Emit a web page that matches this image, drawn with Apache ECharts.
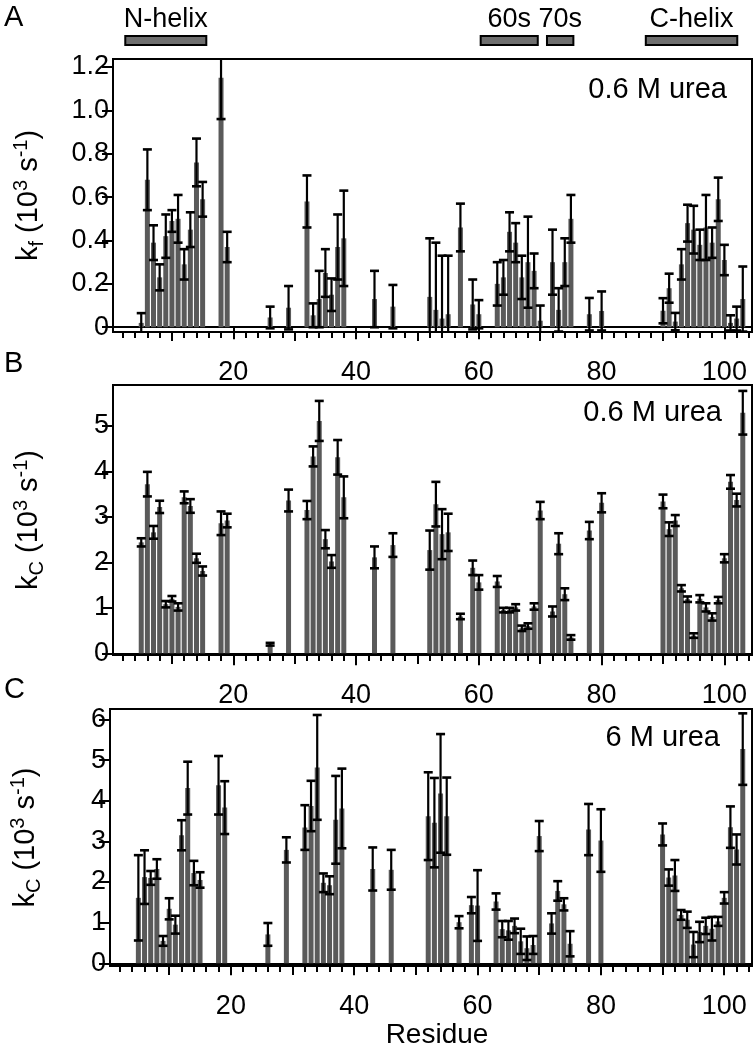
<!DOCTYPE html>
<html><head><meta charset="utf-8">
<script src="https://cdn.jsdelivr.net/npm/echarts@6/dist/echarts.min.js"></script>
<style>html,body{margin:0;padding:0;background:#fff}#c{width:755px;height:1050px}</style>
</head><body><div id="c"></div>
<script>
// ---------------- data ----------------
const residues = [5,6,7,8,9,10,11,12,13,14,15,18,19,26,29,32,33,34,35,36,37,38,43,46,52,53,54,55,57,59,60,63,64,65,66,67,68,69,70,72,73,74,75,78,80,90,91,92,93,94,95,96,97,98,99,100,101,102,103];

// Panel A: kf, 0.6 M urea
const kfValues = [0.02,0.68,0.39,0.23,0.42,0.49,0.50,0.29,0.45,0.76,0.59,1.15,0.37,0.045,0.09,0.58,0.055,0.13,0.25,0.15,0.37,0.41,0.13,0.095,0.14,0.08,0.04,0.06,0.46,0.105,0.06,0.20,0.23,0.44,0.39,0.23,0.30,0.26,0.03,0.30,0.08,0.30,0.50,0.06,0.075,0.076,0.18,0.026,0.29,0.48,0.45,0.38,0.46,0.39,0.59,0.31,0.02,0.04,0.13];
const kfErrors = [0.045,0.14,0.08,0.06,0.10,0.05,0.11,0.07,0.08,0.11,0.08,0.19,0.07,0.05,0.10,0.12,0.055,0.13,0.11,0.075,0.15,0.22,0.13,0.10,0.27,0.31,0.29,0.27,0.11,0.115,0.065,0.10,0.08,0.09,0.09,0.10,0.21,0.08,0.07,0.15,0.10,0.11,0.11,0.075,0.09,0.058,0.067,0.04,0.07,0.085,0.11,0.07,0.15,0.07,0.10,0.07,0.035,0.055,0.15];

// Panel B: kC, 0.6 M urea
const kc06Values = [2.44,3.72,2.66,3.22,1.08,1.20,1.02,3.43,3.24,2.09,1.81,2.86,2.92,0.20,3.36,3.15,4.33,5.11,2.51,2.02,4.31,3.43,2.11,2.38,2.27,3.28,2.62,2.66,0.81,1.88,1.56,1.58,0.95,0.95,1.01,0.55,0.60,1.03,3.14,0.92,2.41,1.30,0.35,2.70,3.31,3.34,2.73,2.92,1.43,1.19,0.39,1.20,1.01,0.80,1.17,2.09,3.77,3.37,5.29];
const kc06Errors = [0.09,0.27,0.14,0.135,0.07,0.06,0.08,0.13,0.15,0.10,0.10,0.26,0.15,0.03,0.24,0.20,0.22,0.44,0.20,0.14,0.38,0.46,0.24,0.26,0.43,0.49,0.55,0.41,0.06,0.16,0.16,0.12,0.05,0.05,0.07,0.06,0.06,0.07,0.19,0.11,0.23,0.13,0.05,0.19,0.21,0.15,0.15,0.12,0.07,0.06,0.05,0.08,0.09,0.08,0.07,0.09,0.15,0.14,0.48];

// Panel C: kC, 6 M urea
const kc6Values = [1.61,2.12,2.10,2.32,0.55,1.34,0.95,3.15,4.31,2.22,2.05,4.38,3.83,0.71,2.79,3.34,3.87,4.82,1.98,1.92,3.53,3.81,2.32,2.30,3.62,3.46,4.18,3.62,1.01,1.43,1.42,1.52,0.84,0.81,0.92,0.54,0.37,0.45,3.13,0.98,1.78,1.45,0.48,3.29,3.02,3.17,2.11,2.16,1.19,1.07,0.46,0.77,0.92,0.85,1.03,1.61,3.35,2.80,5.27];
const kc6Errors = [1.05,0.66,0.17,0.24,0.12,0.26,0.22,0.37,0.65,0.30,0.19,0.72,0.65,0.28,0.31,0.55,0.62,1.29,0.23,0.22,1.08,0.98,0.53,0.49,1.08,1.10,1.46,0.95,0.15,0.20,0.87,0.20,0.20,0.23,0.18,0.31,0.29,0.22,0.37,0.25,0.24,0.15,0.31,0.63,0.77,0.27,0.20,0.38,0.12,0.20,0.31,0.25,0.20,0.29,0.11,0.14,0.51,0.37,0.88];

// Axis ticks
const xMajorTicks = [20,40,60,80,100];
const xMediumTicks = [10,30,50,70,90];
const xMinorTicks = [2,4,6,8,10,12,14,16,18,20,22,24,26,28,30,32,34,36,38,40,42,44,46,48,50,52,54,56,58,60,62,64,66,68,70,72,74,76,78,80,82,84,86,88,90,92,94,96,98,100,102,104];
const kfTicks = [0,0.2,0.4,0.6,0.8,1.0,1.2];
const kc06Ticks = [0,1,2,3,4,5];
const kc6Ticks = [0,1,2,3,4,5,6];

// Structural regions (residue ranges)
const regionNames = ['N-helix','60s','70s','C-helix'];
const regionStart = [2.4,60.3,71.1,87.2];
const regionEnd = [15.6,69.6,75.4,102.1];

// ---------------- chart ----------------
const FONT = '"Liberation Sans", Arial, Helvetica, sans-serif';
const BAR = '#5a5a5a';
const XMIN = 0.4, XMAX = 104.5;

const panels = [
  {left:113, top:59, width:639, height:273, ymin:-0.022, ymax:1.237, ticks:kfTicks, vals:kfValues, errs:kfErrors,
   fmt:v => v === 0 ? '0' : v.toFixed(1), sub:'f'},
  {left:113, top:385, width:639, height:270, ymin:-0.037, ymax:5.9, ticks:kc06Ticks, vals:kc06Values, errs:kc06Errors,
   fmt:v => String(v), sub:'C'},
  {left:109, top:709, width:643, height:271, ymin:-0.07, ymax:6.257, ticks:kc6Ticks, vals:kc6Values, errs:kc6Errors,
   fmt:v => String(v), sub:'C'}
];

const grids = [], xAxes = [], yAxes = [], series = [];
const richName = {
  a:{fontSize:29, fontFamily:FONT, color:'#000', lineHeight:36},
  s:{fontSize:20, fontFamily:FONT, color:'#000', verticalAlign:'bottom', padding:[11,0,0,0], lineHeight:36},
  p:{fontSize:20, fontFamily:FONT, color:'#000', verticalAlign:'top', padding:[0,0,13,0], lineHeight:36}
};

panels.forEach((p, i) => {
  grids.push({left:p.left, top:p.top, width:p.width, height:p.height, show:true,
    borderColor:'#000', borderWidth:2, backgroundColor:'transparent'});
  const base = xAxes.length;
  xAxes.push({type:'value', gridIndex:i, min:XMIN, max:XMAX, position:'bottom',
    axisLine:{show:true, lineStyle:{color:'#000', width:2}},
    axisTick:{show:true, customValues:xMajorTicks, length:12, lineStyle:{color:'#000', width:2}},
    axisLabel:{show:true, customValues:xMajorTicks, margin:27, fontSize:27, fontFamily:FONT, color:'#000'},
    splitLine:{show:false},
    name: i === 2 ? 'Residue' : '', nameLocation:'middle', nameGap:54,
    nameTextStyle:{fontSize:28, fontFamily:FONT, color:'#000', padding:[0,0,0,12]}
  });
  xAxes.push({type:'value', gridIndex:i, min:XMIN, max:XMAX, position:'bottom',
    axisLine:{show:false}, axisLabel:{show:false}, splitLine:{show:false},
    axisTick:{show:true, customValues:xMediumTicks, length:9, lineStyle:{color:'#000', width:2}}});
  xAxes.push({type:'value', gridIndex:i, min:XMIN, max:XMAX, position:'bottom',
    axisLine:{show:false}, axisLabel:{show:false}, splitLine:{show:false},
    axisTick:{show:true, customValues:xMinorTicks, length:6, lineStyle:{color:'#000', width:2}}});
  yAxes.push({type:'value', gridIndex:i, min:p.ymin, max:p.ymax,
    axisLine:{show:true, lineStyle:{color:'#000', width:2}},
    axisTick:{show:true, customValues:p.ticks, length:11, lineStyle:{color:'#000', width:2}},
    axisLabel:{show:true, customValues:p.ticks, margin:4, fontSize:27, fontFamily:FONT, color:'#000', formatter:p.fmt},
    splitLine:{show:false},
    name:'{a|k}{s|' + p.sub + '}{a| (10}{p|3}{a| s}{p|-1}{a|)}',
    nameLocation:'middle', nameRotate:90, nameGap:66,
    nameTextStyle:{rich:richName, fontSize:29, fontFamily:FONT, color:'#000'}
  });
  const data = residues.map((r, k) => [r, p.vals[k], p.errs[k]]);
  series.push({type:'bar', xAxisIndex:base, yAxisIndex:i, barWidth:5, z:2, itemStyle:{color:BAR},
    data:data.map(d => [d[0], d[1]]), animation:false, silent:true});
  series.push({type:'custom', xAxisIndex:base, yAxisIndex:i, clip:true, z:5, animation:false, silent:true,
    data:data, encode:{x:0, y:1},
    renderItem:(params, api) => {
      const x = api.value(0), v = api.value(1), e = api.value(2);
      const lo = api.coord([x, v - e]);
      const hi = api.coord([x, v + e]);
      const w = 4.5;
      return {type:'group', children:[
        {type:'line', shape:{x1:hi[0], y1:hi[1], x2:lo[0], y2:lo[1]}, style:{stroke:'#000', lineWidth:2.2}},
        {type:'line', shape:{x1:hi[0]-w, y1:hi[1], x2:hi[0]+w, y2:hi[1]}, style:{stroke:'#000', lineWidth:2.6}},
        {type:'line', shape:{x1:lo[0]-w, y1:lo[1], x2:lo[0]+w, y2:lo[1]}, style:{stroke:'#000', lineWidth:2.6}}
      ]};
    }
  });
});

// header grid for structural regions
const hg = grids.length;
grids.push({left:113, top:36, width:639, height:9, show:false});
xAxes.push({type:'value', gridIndex:hg, min:XMIN, max:XMAX, show:false});
yAxes.push({type:'value', gridIndex:hg, min:0, max:1, show:false});
series.push({type:'custom', xAxisIndex:xAxes.length-1, yAxisIndex:yAxes.length-1, clip:false, animation:false, silent:true,
  data:regionNames.map((n, k) => [regionStart[k], regionEnd[k]]),
  renderItem:(params, api) => {
    const s = api.coord([api.value(0), 1]);
    const e = api.coord([api.value(1), 0]);
    return {type:'group', children:[
      {type:'rect', shape:{x:s[0], y:s[1], width:e[0]-s[0], height:e[1]-s[1]},
       style:{fill:'#6e6e6e', stroke:'#000', lineWidth:2}},
      {type:'text', x:(s[0]+e[0])/2, y:s[1]-3,
       style:{text:regionNames[params.dataIndex], align:'center', verticalAlign:'bottom',
              fontSize:27, fontFamily:FONT, fill:'#000'}}
    ]};
  }
});

const txt = (text, x, y, align, size) => ({type:'text', x:x, y:y,
  style:{text:text, align:align, verticalAlign:'middle', fontSize:size, fontFamily:FONT, fill:'#000'}});

const chart = echarts.init(document.getElementById('c'), null, {renderer:'canvas'});
chart.setOption({
  animation:false,
  backgroundColor:'#fff',
  grid:grids, xAxis:xAxes, yAxis:yAxes, series:series,
  graphic:[
    txt('A', 4, 18, 'left', 29),
    txt('B', 4, 364, 'left', 29),
    txt('C', 4, 690, 'left', 29),
    txt('0.6 M urea', 727, 90, 'right', 29),
    txt('0.6 M urea', 722, 413, 'right', 29),
    txt('6 M urea', 720, 738, 'right', 29)
  ]
});
</script></body></html>
